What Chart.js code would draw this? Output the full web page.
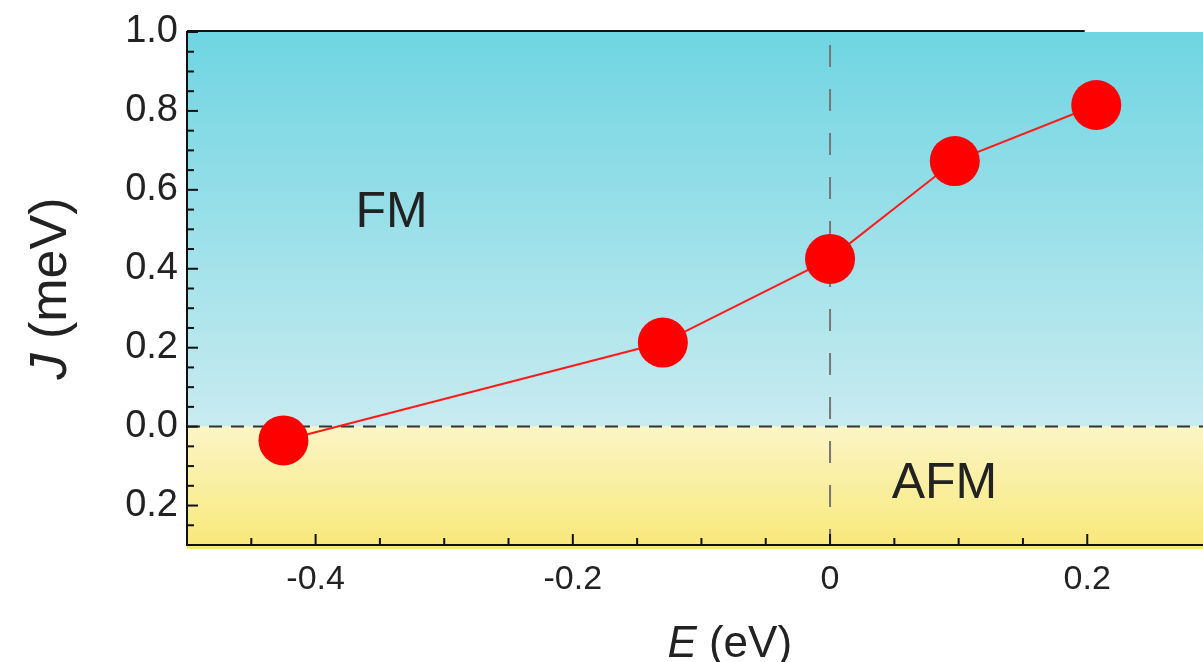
<!DOCTYPE html>
<html>
<head>
<meta charset="utf-8">
<script src="https://cdn.jsdelivr.net/npm/chart.js@4.4.0/dist/chart.umd.min.js"></script>
<style>
  body { margin: 0; background: #fff; }
  #wrap { width: 1203px; height: 662px; position: relative; }
</style>
</head>
<body>
<div id="wrap"><canvas id="jChart"></canvas></div>
<script>
// Energy shift E (eV) and exchange coupling J (meV)
const energies = [-0.425, -0.13, 0.0, 0.097, 0.207];
const couplings = [-0.035, 0.213, 0.425, 0.673, 0.815];

// Labelled ticks (minor ticks every 0.05)
const xTickValues = [-0.4, -0.2, 0, 0.2];
const xTickLabels = ['-0.4', '-0.2', '0', '0.2'];
const yTickValues = [-0.2, 0, 0.2, 0.4, 0.6, 0.8, 1.0];
const yTickLabels = ['0.2', '0.0', '0.2', '0.4', '0.6', '0.8', '1.0'];

const FONT = '"Liberation Sans", Arial, Helvetica, sans-serif';

function labelFor(values, labels, v) {
    const i = values.findIndex(t => Math.abs(t - v) < 1e-6);
    return i >= 0 ? labels[i] : '';
}

// Фон, пунктирные линии, засечки внутрь и подписи
const decorPlugin = {
    id: 'decor',
    beforeDraw(chart) {
        const { ctx, chartArea: a, scales: { x, y } } = chart;
        const y0 = y.getPixelForValue(0);
        ctx.save();
        let g = ctx.createLinearGradient(0, a.top, 0, y0);
        g.addColorStop(0, '#6fd5e2');
        g.addColorStop(1, '#c8ebf0');
        ctx.fillStyle = g;
        ctx.fillRect(a.left, a.top, a.right - a.left, y0 - a.top);
        g = ctx.createLinearGradient(0, y0, 0, a.bottom + 4);
        g.addColorStop(0, '#fbf5c6');
        g.addColorStop(1, '#f8e878');
        ctx.fillStyle = g;
        ctx.fillRect(a.left, y0, a.right - a.left, a.bottom + 4 - y0);
        ctx.restore();
    },
    beforeDatasetsDraw(chart) {
        const { ctx, chartArea: a, scales: { x, y } } = chart;
        ctx.save();
        // J = 0
        ctx.strokeStyle = '#333';
        ctx.lineWidth = 2;
        ctx.setLineDash([13, 9]);
        const y0 = y.getPixelForValue(0);
        ctx.beginPath(); ctx.moveTo(a.left, y0); ctx.lineTo(a.right, y0); ctx.stroke();
        // E = 0
        ctx.strokeStyle = '#777';
        ctx.setLineDash([22, 22]);
        ctx.lineDashOffset = -13;
        const x0 = x.getPixelForValue(0);
        ctx.beginPath(); ctx.moveTo(x0, a.top); ctx.lineTo(x0, a.bottom); ctx.stroke();
        ctx.restore();

        // phase labels
        ctx.save();
        ctx.fillStyle = '#222';
        ctx.font = '50px ' + FONT;
        ctx.textAlign = 'center';
        ctx.textBaseline = 'middle';
        ctx.fillText('FM', x.getPixelForValue(-0.341), y.getPixelForValue(0.54));
        ctx.fillText('AFM', x.getPixelForValue(0.089), y.getPixelForValue(-0.145));
        ctx.restore();
    },
    afterDraw(chart) {
        const { ctx, chartArea: a, scales: { x, y } } = chart;
        ctx.save();
        ctx.strokeStyle = '#111';
        ctx.lineWidth = 2;
        // inward tick marks
        y.ticks.forEach(t => {
            const v = t.value;
            if (Math.abs(Math.round(v * 20) - v * 20) > 1e-6) return;
            const p = y.getPixelForValue(v);
            const len = labelFor(yTickValues, yTickLabels, v) ? 11 : 7;
            ctx.beginPath(); ctx.moveTo(a.left, p); ctx.lineTo(a.left + len, p); ctx.stroke();
        });
        x.ticks.forEach(t => {
            const v = t.value;
            if (Math.abs(Math.round(v * 20) - v * 20) > 1e-6) return;
            const p = x.getPixelForValue(v);
            const len = labelFor(xTickValues, xTickLabels, v) ? 11 : 7;
            ctx.beginPath(); ctx.moveTo(p, a.bottom); ctx.lineTo(p, a.bottom - len); ctx.stroke();
        });
        // top frame (stops short of the right side)
        ctx.beginPath();
        ctx.moveTo(a.left, a.top - 1);
        ctx.lineTo(x.getPixelForValue(0.198), a.top - 1);
        ctx.stroke();

        // axis titles with italic symbols
        ctx.fillStyle = '#222';
        ctx.textBaseline = 'alphabetic';
        const italic = 'italic 44px ' + FONT, normal = '44px ' + FONT;
        // x title
        ctx.font = italic; const wE = ctx.measureText('E').width;
        ctx.font = normal; const wR = ctx.measureText(' (eV)').width;
        let sx = x.getPixelForValue(-0.078) - (wE + wR) / 2;
        ctx.font = italic; ctx.fillText('E', sx, 657);
        ctx.font = normal; ctx.fillText(' (eV)', sx + wE, 657);
        // y title
        ctx.translate(66, (a.top + a.bottom) / 2);
        ctx.rotate(-Math.PI / 2);
        ctx.font = 'italic 52px ' + FONT; const wJ = ctx.measureText('J').width;
        ctx.font = '52px ' + FONT; const wM = ctx.measureText(' (meV)').width;
        sx = -(wJ + wM) / 2;
        ctx.font = 'italic 52px ' + FONT; ctx.fillText('J', sx, 0);
        ctx.font = '52px ' + FONT; ctx.fillText(' (meV)', sx + wJ, 0);
        ctx.restore();
    }
};

new Chart(document.getElementById('jChart'), {
    type: 'scatter',
    data: {
        datasets: [{
            data: energies.map((e, i) => ({ x: e, y: couplings[i] })),
            showLine: true,
            borderColor: '#ff1a1a',
            borderWidth: 2,
            backgroundColor: '#ff0000',
            pointBackgroundColor: '#ff0000',
            pointBorderWidth: 0,
            pointRadius: 25,
            pointHoverRadius: 25
        }]
    },
    options: {
        responsive: true,
        maintainAspectRatio: false,
        animation: false,
        layout: { autoPadding: false, padding: { top: 32, right: 0, left: 0, bottom: 0 } },
        plugins: { legend: { display: false }, tooltip: { enabled: false } },
        scales: {
            x: {
                type: 'linear',
                min: -0.5,
                max: 0.29,
                afterFit(s) { s.height = 117; s.paddingLeft = 0; s.paddingRight = 0; },
                grid: { drawOnChartArea: false, drawTicks: false },
                border: { color: '#111', width: 2 },
                ticks: {
                    stepSize: 0.05,
                    autoSkip: false,
                    maxRotation: 0,
                    padding: 14,
                    color: '#222',
                    font: { family: FONT, size: 34 },
                    callback: v => labelFor(xTickValues, xTickLabels, v)
                }
            },
            y: {
                min: -0.3,
                max: 1.0,
                afterFit(s) { s.width = 187; s.paddingTop = 0; s.paddingBottom = 0; },
                grid: { drawOnChartArea: false, drawTicks: false },
                border: { color: '#111', width: 2 },
                ticks: {
                    stepSize: 0.05,
                    autoSkip: false,
                    padding: 9,
                    color: '#222',
                    font: { family: FONT, size: 38 },
                    callback: v => labelFor(yTickValues, yTickLabels, v)
                }
            }
        }
    },
    plugins: [decorPlugin]
});
</script>
</body>
</html>
